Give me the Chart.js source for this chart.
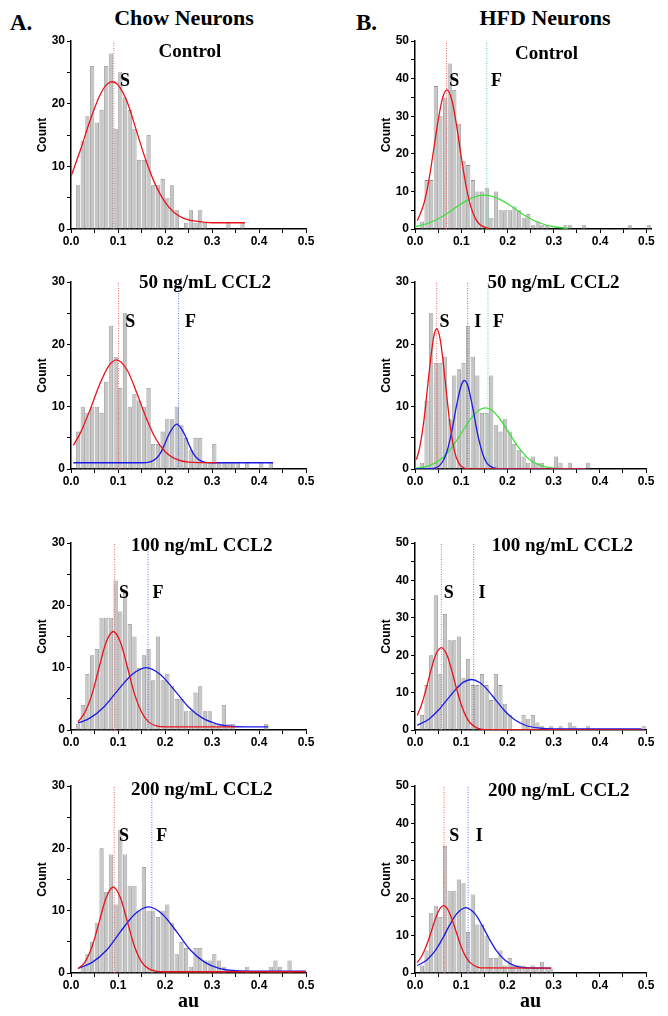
<!DOCTYPE html>
<html>
<head>
<meta charset="utf-8">
<script src="https://cdn.jsdelivr.net/npm/chart.js@4.4.1/dist/chart.umd.min.js"></script>
<style>
  body { margin: 0; background: #fff; }
  #fig { position: relative; width: 668px; height: 1016px; overflow: hidden; background: #fff; }
  .hdr { position: absolute; font-family: "Liberation Serif", "Times New Roman", serif; font-weight: bold; line-height: 1; color: #000; white-space: nowrap; }
</style>
</head>
<body>
<div id="fig">
  <div class="hdr" style="left:10px; top:11px; font-size:23px;">A.</div>
  <div class="hdr" style="left:84px; top:7px; width:200px; text-align:center; font-size:22px;">Chow Neurons</div>
  <div class="hdr" style="left:356px; top:11px; font-size:23px;">B.</div>
  <div class="hdr" style="left:445px; top:7px; width:200px; text-align:center; font-size:22px;">HFD Neurons</div>
</div>
<script>
// histogram bins are 0.01 wide, counts start at the 0.00 bin
const binWidth = 0.01;

// ---- Chow, control
const chowControlCounts = [0,7,14,18,26,17,19,26,28,16,25,21,19,16,11,11,15,7,7,8,5,7,3,0,1,3,1,3,1,0,0,0,0,1,0,0,1];
const chowControlRedX = [0.0,0.02,0.04,0.06,0.07,0.08,0.088,0.1,0.12,0.14,0.16,0.18,0.2,0.22,0.24,0.27,0.3,0.37];
const chowControlRedY = [8.4,12.6,17.2,21.1,22.5,23.3,23.5,23.0,20.2,15.5,10.8,7.0,4.3,2.6,1.7,1.2,1.0,1.0];

// ---- HFD, control
const hfdControlCounts = [0,2,13,13,38,30,35,44,37,28,18,17,13,10,10,11,3,10,5,5,5,6,5,3,4,1,2,1,1,0,0,0,1,1,0,0,1,0,0,0,0,0,0,0,0,0,1,0,0,0,1];
const hfdControlRedX = [0.005,0.02,0.03,0.04,0.05,0.06,0.069,0.08,0.09,0.1,0.11,0.12,0.13,0.14,0.16];
const hfdControlRedY = [2.2,7.1,13.0,20.8,28.9,35.0,37,34.1,27.4,19.1,11.7,6.2,2.9,1.2,0.1];
const hfdControlGreenX = [0.0,0.03,0.06,0.09,0.12,0.15,0.18,0.21,0.24,0.27,0.3,0.33];
const hfdControlGreenY = [0.6,1.6,3.4,5.9,8.1,9.0,8.1,5.9,3.4,1.6,0.6,0.2];

// ---- Chow, 50 ng/mL
const chow50Counts = [0,6,10,9,10,10,9,14,23,18,13,25,10,12,11,10,13,4,4,6,8,8,10,7,5,3,5,5,1,1,4,1,1,1,1,1,0,1,0,0,1,0,1];
const chow50RedX = [0.005,0.02,0.04,0.06,0.08,0.097,0.12,0.14,0.16,0.18,0.2,0.22,0.25,0.31];
const chow50RedY = [3.8,5.8,9.4,13.4,16.5,17.5,15.8,12.2,8.2,4.9,2.8,1.7,1.1,1.0];
const chow50BlueX = [0.005,0.15,0.17,0.18,0.19,0.2,0.21,0.225,0.24,0.25,0.26,0.27,0.28,0.3,0.43];
const chow50BlueY = [1.0,1.0,1.2,1.6,2.5,4.1,5.8,7.2,5.8,4.1,2.5,1.6,1.2,1.0,1.0];

// ---- HFD, 50 ng/mL
const hfd50Counts = [0,1,11,25,17,17,18,8,15,16,17,23,18,15,9,9,15,7,6,8,6,4,3,2,1,2,1,1,0,0,2,1,0,1,0,0,0,1];
const hfd50RedX = [0.003,0.01,0.02,0.03,0.04,0.047,0.055,0.065,0.075,0.085,0.095,0.105,0.12,0.37];
const hfd50RedY = [1.5,3.4,8.2,15.1,21.0,22.5,20.6,14.4,7.6,3.0,0.9,0.2,0,0];
const hfd50BlueX = [0.0,0.04,0.06,0.07,0.08,0.09,0.1,0.107,0.115,0.125,0.135,0.145,0.155,0.17,0.2,0.37];
const hfd50BlueY = [0,0.1,1.2,3.0,6.2,10.2,13.4,14.2,13.2,9.8,5.8,2.8,1.0,0.2,0,0];
const hfd50GreenX = [0.0,0.03,0.06,0.08,0.1,0.12,0.14,0.152,0.165,0.185,0.205,0.225,0.25,0.28,0.31,0.37];
const hfd50GreenY = [0.1,0.5,1.8,3.5,5.7,8.0,9.5,9.8,9.5,7.9,5.6,3.4,1.4,0.4,0.1,0];

// ---- Chow, 100 ng/mL
const chow100Counts = [0,1,4,9,12,13,18,18,18,24,19,22,17,15,10,12,13,8,15,8,9,7,5,5,3,3,6,7,3,3,1,1,4,1,1,0,0,0,0,0,0,1];
const chow100RedX = [0.015,0.03,0.045,0.06,0.075,0.09,0.105,0.12,0.135,0.15,0.165,0.18,0.2,0.35];
const chow100RedY = [1.3,2.9,5.8,10.1,14.1,15.8,14.1,10.1,5.8,2.9,1.3,0.7,0.5,0.5];
const chow100BlueX = [0.015,0.04,0.07,0.1,0.13,0.16,0.19,0.22,0.25,0.28,0.31,0.34,0.37,0.42];
const chow100BlueY = [1.1,1.9,3.7,6.4,8.9,10.0,8.9,6.4,3.7,1.9,1.0,0.6,0.5,0.5];

// ---- HFD, 100 ng/mL
const hfd100Counts = [0,4,12,20,36,15,31,24,24,25,14,19,12,12,15,12,8,15,12,7,4,0,0,4,3,4,2,1,0,1,0,1,0,2,1,0,0,1,0,0,0,0,0,0,0,0,0,0,0,1];
const hfd100RedX = [0.005,0.015,0.025,0.035,0.045,0.057,0.07,0.08,0.09,0.1,0.11,0.12,0.135,0.15,0.49];
const hfd100RedY = [3.9,7.1,11.4,16.2,20.1,22,19.8,15.7,11.0,6.8,3.7,1.8,0.5,0.1,0];
const hfd100BlueX = [0.005,0.03,0.05,0.07,0.09,0.105,0.122,0.14,0.155,0.175,0.195,0.215,0.24,0.27,0.3,0.49];
const hfd100BlueY = [1.25,2.9,5.2,8.2,11.1,12.8,13.5,12.7,11.0,8.0,5.0,2.8,1.2,0.5,0.3,0.3];

// ---- Chow, 200 ng/mL
const chow200Counts = [0,0,1,3,5,8,20,13,19,11,23,19,14,14,10,17,10,10,9,10,11,8,3,5,4,1,4,4,2,2,3,2,1,0,0,0,0,1,0,0,0,0,1,2,1,0,2];
const chow200RedX = [0.015,0.03,0.045,0.06,0.075,0.09,0.105,0.12,0.135,0.15,0.165,0.18,0.2,0.5];
const chow200RedY = [0.7,1.8,4.3,8.2,12.1,13.8,12.1,8.2,4.3,1.8,0.7,0.3,0.2,0.2];
const chow200BlueX = [0.015,0.045,0.075,0.105,0.135,0.165,0.195,0.225,0.255,0.285,0.315,0.345,0.375,0.5];
const chow200BlueY = [0.75,1.7,3.6,6.6,9.4,10.6,9.4,6.6,3.6,1.7,0.75,0.4,0.3,0.3];

// ---- HFD, 200 ng/mL
const hfd200Counts = [0,2,6,16,18,15,34,22,22,25,24,11,21,13,13,10,4,4,6,2,4,2,2,2,1,2,1,3,1,1];
const hfd200RedX = [0.005,0.015,0.025,0.035,0.045,0.055,0.062,0.07,0.08,0.09,0.1,0.11,0.12,0.135,0.15,0.295];
const hfd200RedY = [2.8,4.6,7.4,11.0,14.8,17.4,18.0,17.2,14.4,10.7,7.0,4.3,2.7,1.6,1.35,1.3];
const hfd200BlueX = [0.005,0.025,0.045,0.06,0.075,0.09,0.11,0.13,0.145,0.16,0.175,0.195,0.215,0.24,0.295];
const hfd200BlueY = [2.0,3.4,6.2,9.3,12.8,15.8,17.5,15.8,12.8,9.3,6.2,3.4,2.0,1.4,1.3];

// fitted peak centres (dotted markers)
const chowControlMeans = [0.091];
const hfdControlMeans = [0.068, 0.155];
const chow50Means = [0.101, 0.229];
const hfd50Means = [0.047, 0.114, 0.158];
const chow100Means = [0.093, 0.164];
const hfd100Means = [0.057, 0.127];
const chow200Means = [0.092, 0.172];
const hfd200Means = [0.063, 0.115];

// colours
const RED = '#e8141c', BLUE = '#1a1ae6', GREEN = '#3de03d';
const RED_DOT = '#f06464', BLUE_DOT = '#5a7ee0', GREEN_DOT = '#55d88a';
const SERIF = '"Liberation Serif", "Times New Roman", serif';

Chart.defaults.font.family = '"Liberation Sans", Arial, sans-serif';
Chart.defaults.color = '#000';

// draws the in-plot labels (panel name, S / I / F) at data coordinates
const panelText = {
  id: 'panelText',
  afterDatasetsDraw(chart, args, opts) {
    const { ctx, scales: { x, y } } = chart;
    ctx.save();
    ctx.fillStyle = '#000';
    ctx.textAlign = 'center';
    ctx.textBaseline = 'middle';
    (opts.items || []).forEach(it => {
      ctx.font = 'bold ' + it.size + 'px ' + SERIF;
      ctx.fillText(it.text, x.getPixelForValue(it.x), y.getPixelForValue(it.y));
    });
    ctx.restore();
  }
};

const panels = [
  { left: 21, top: 31, w: 299, h: 222, xMax: 0.5, yMax: 30, counts: chowControlCounts,
    curves: [[chowControlRedX, chowControlRedY, RED]],
    means: chowControlMeans, meanColors: [RED_DOT],
    labels: [['Control', 0.253, 28.3, 19], ['S', 0.115, 23.6, 18]] },
  { left: 365, top: 31, w: 300, h: 222, xMax: 0.51, yMax: 50, counts: hfdControlCounts,
    curves: [[hfdControlRedX, hfdControlRedY, RED], [hfdControlGreenX, hfdControlGreenY, GREEN]],
    means: hfdControlMeans, meanColors: [RED_DOT, GREEN_DOT],
    labels: [['Control', 0.284, 46.6, 19], ['S', 0.085, 39.4, 18], ['F', 0.176, 39.4, 18]] },
  { left: 21, top: 272, w: 299, h: 221, xMax: 0.5, yMax: 30, counts: chow50Counts,
    curves: [[chow50RedX, chow50RedY, RED], [chow50BlueX, chow50BlueY, BLUE]],
    means: chow50Means, meanColors: [RED_DOT, BLUE_DOT],
    labels: [['50 ng/mL CCL2', 0.285, 29.9, 19], ['S', 0.126, 23.6, 18], ['F', 0.254, 23.6, 18]] },
  { left: 365, top: 272, w: 295, h: 221, xMax: 0.5, yMax: 30, counts: hfd50Counts,
    curves: [[hfd50RedX, hfd50RedY, RED], [hfd50BlueX, hfd50BlueY, BLUE], [hfd50GreenX, hfd50GreenY, GREEN]],
    means: hfd50Means, meanColors: [RED_DOT, BLUE_DOT, GREEN_DOT],
    labels: [['50 ng/mL CCL2', 0.30, 29.9, 19], ['S', 0.064, 23.6, 18], ['I', 0.136, 23.6, 18], ['F', 0.181, 23.6, 18]] },
  { left: 21, top: 533, w: 299, h: 221, xMax: 0.5, yMax: 30, counts: chow100Counts,
    curves: [[chow100RedX, chow100RedY, RED], [chow100BlueX, chow100BlueY, BLUE]],
    means: chow100Means, meanColors: [RED_DOT, BLUE_DOT],
    labels: [['100 ng/mL CCL2', 0.278, 29.5, 19], ['S', 0.113, 21.9, 18], ['F', 0.185, 21.9, 18]] },
  { left: 365, top: 533, w: 295, h: 221, xMax: 0.5, yMax: 50, counts: hfd100Counts,
    curves: [[hfd100RedX, hfd100RedY, RED], [hfd100BlueX, hfd100BlueY, BLUE]],
    means: hfd100Means, meanColors: [RED_DOT, BLUE_DOT],
    labels: [['100 ng/mL CCL2', 0.319, 49.1, 19], ['S', 0.073, 36.6, 18], ['I', 0.145, 36.6, 18]] },
  { left: 21, top: 776, w: 299, h: 240, xMax: 0.5, yMax: 30, counts: chow200Counts, xTitle: true,
    curves: [[chow200RedX, chow200RedY, RED], [chow200BlueX, chow200BlueY, BLUE]],
    means: chow200Means, meanColors: [RED_DOT, BLUE_DOT],
    labels: [['200 ng/mL CCL2', 0.278, 29.4, 19], ['S', 0.113, 22.0, 18], ['F', 0.193, 22.0, 18]] },
  { left: 365, top: 776, w: 295, h: 240, xMax: 0.5, yMax: 50, counts: hfd200Counts, xTitle: true,
    curves: [[hfd200RedX, hfd200RedY, RED], [hfd200BlueX, hfd200BlueY, BLUE]],
    means: hfd200Means, meanColors: [RED_DOT, BLUE_DOT],
    labels: [['200 ng/mL CCL2', 0.311, 48.7, 19], ['S', 0.085, 36.6, 18], ['I', 0.139, 36.6, 18]] }
];

function makePanel(p) {
  const canvas = document.createElement('canvas');
  canvas.width = p.w;
  canvas.height = p.h;
  canvas.style.cssText = `position:absolute;left:${p.left}px;top:${p.top}px;width:${p.w}px;height:${p.h}px;`;
  document.getElementById('fig').appendChild(canvas);

  const datasets = [];

  // fitted gaussian curves
  p.curves.forEach(([xs, ys, color]) => {
    datasets.push({
      type: 'line',
      data: xs.map((v, i) => ({ x: v, y: ys[i] })),
      borderColor: color,
      borderWidth: 1.3,
      pointRadius: 0,
      cubicInterpolationMode: 'monotone',
      order: 1
    });
  });

  // dotted peak markers
  p.means.forEach((m, i) => {
    datasets.push({
      type: 'line',
      data: [{ x: m, y: 0 }, { x: m, y: p.yMax }],
      borderColor: p.meanColors[i],
      borderWidth: 1,
      borderDash: [1, 1.5],
      pointRadius: 0,
      order: 2
    });
  });

  // histogram
  datasets.push({
    type: 'bar',
    data: p.counts.map((c, i) => ({ x: i * binWidth + binWidth / 2, y: c })),
    backgroundColor: '#c6c6c6',
    borderColor: '#8f8f8f',
    borderWidth: ctx => (ctx.raw && ctx.raw.y > 0 ? 0.8 : 0),
    borderSkipped: 'bottom',
    barPercentage: 0.9,
    categoryPercentage: 1,
    order: 3
  });

  new Chart(canvas, {
    type: 'bar',
    data: { datasets },
    plugins: [panelText],
    options: {
      responsive: false,
      animation: false,
      layout: { padding: { top: 10, right: 14, left: 0, bottom: 0 } },
      plugins: {
        legend: { display: false },
        tooltip: { enabled: false },
        panelText: { items: p.labels.map(l => ({ text: l[0], x: l[1], y: l[2], size: l[3] })) }
      },
      scales: {
        x: {
          type: 'linear',
          min: 0,
          max: p.xMax,
          offset: false,
          ticks: {
            stepSize: 0.05,
            includeBounds: false,
            autoSkip: false,
            maxRotation: 0,
            padding: 1,
            color: '#000',
            font: { size: 12, weight: 'bold' },
            callback: v => (Math.abs(v * 10 - Math.round(v * 10)) < 1e-6 ? v.toFixed(1) : '')
          },
          grid: { offset: false, drawOnChartArea: false, drawTicks: true, tickLength: 4, tickColor: '#000', tickWidth: 1 },
          border: { color: '#000', width: 1.5 },
          title: {
            display: !!p.xTitle,
            text: 'au',
            color: '#000',
            font: { family: SERIF, size: 20, weight: 'bold' },
            padding: { top: 0, bottom: 2 }
          },
          afterFit: s => { s.height = p.xTitle ? 43 : 24; }
        },
        y: {
          min: 0,
          max: p.yMax,
          ticks: {
            stepSize: 5,
            autoSkip: false,
            padding: 2,
            color: '#000',
            font: { size: 12, weight: 'bold' },
            callback: v => (v % 10 === 0 ? v : '')
          },
          grid: { drawOnChartArea: false, drawTicks: true, tickLength: 4, tickColor: '#000', tickWidth: 1 },
          border: { color: '#000', width: 1.5 },
          title: {
            display: true,
            text: 'Count',
            color: '#000',
            font: { size: 12, weight: 'bold' },
            padding: { top: 14, bottom: 0 }
          },
          afterFit: s => { s.width = 50; }
        }
      }
    }
  });
}

panels.forEach(makePanel);
</script>
</body>
</html>
